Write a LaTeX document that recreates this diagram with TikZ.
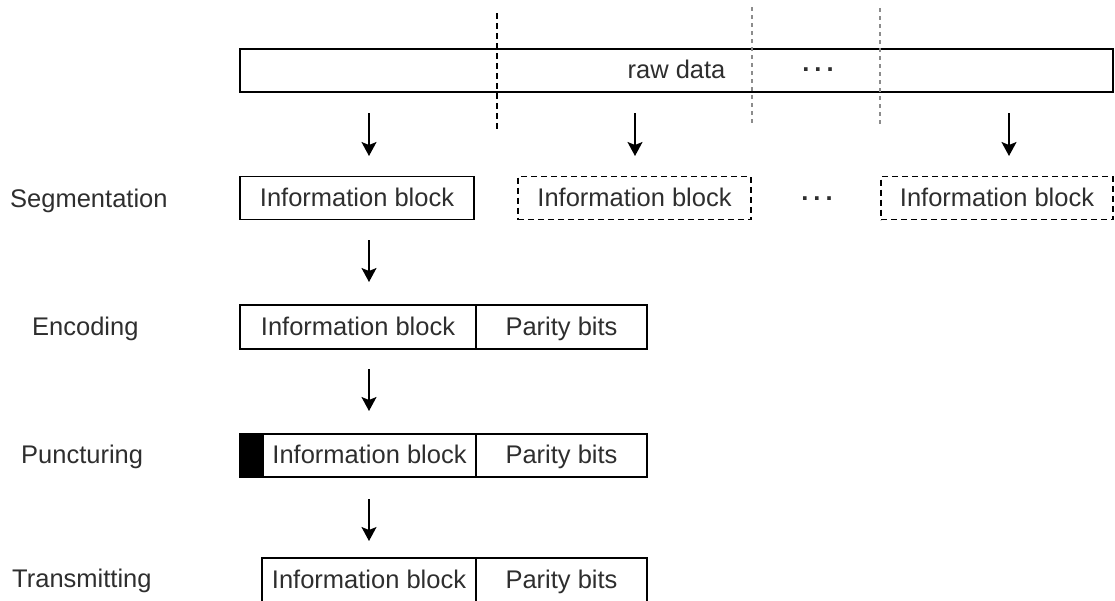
\documentclass[tikz,border=0pt]{standalone}
\usepackage{fontspec}
\setmainfont{Liberation Sans}
\usetikzlibrary{arrows.meta}
\definecolor{ink}{HTML}{2E2E2E}
\definecolor{cutgrey}{HTML}{8C8C8C}
\begin{document}
\begin{tikzpicture}[x=1pt,y=-1pt,
  txt/.style={font=\fontsize{25.5}{30}\selectfont, text=ink},
  blk/.style={draw=black, line width=1.6pt, txt, inner sep=0pt, minimum height=43pt,
              text height=18.5pt, text depth=2.5pt},
  dblk/.style={blk, dash pattern=on 6pt off 4pt},
  lbl/.style={txt, inner sep=0pt, anchor=base west},
  flow/.style={line width=1.6pt, -{Stealth[length=14pt,width=15pt,inset=3pt]}},
  cut/.style={line width=1.6pt, dash pattern=on 6pt off 4pt},
  gcut/.style={line width=2pt, draw=cutgrey, dash pattern=on 4pt off 4pt}]
\useasboundingbox (0,0) rectangle (1115,600);

% raw data stream
\node[blk, minimum width=873pt] (raw) at (676.5,70.5) {raw data};
\node[txt] (rawdots) at (818,70) {\bfseries.\kern5pt.\kern5pt.};

% segment boundaries
\coordinate (c1t) at (497,13);  \coordinate (c1b) at (497,129);
\coordinate (c2t) at (752,7);   \coordinate (c2b) at (752,124);
\coordinate (c3t) at (880,8);   \coordinate (c3b) at (880,124);
\draw[cut]  (c1t) -- (c1b);
\draw[gcut] (c2t) -- (c2b);
\draw[gcut] (c3t) -- (c3b);

% step labels
\node[lbl] (lseg) at (10,207) {Segmentation};
\node[lbl] (lenc) at (32,335) {Encoding};
\node[lbl] (lpun) at (21,463) {Puncturing};
\node[lbl] (ltx)  at (12,587) {Transmitting};

% segmentation
\node[blk,  minimum width=234pt] (seg1) at (357,198) {Information block};
\node[dblk, minimum width=233pt] (seg2) at (634.5,198) {Information block};
\node[txt] (segdots) at (817,199) {\bfseries.\kern5pt.\kern5pt.};
\node[dblk, minimum width=232pt] (seg3) at (997,198) {Information block};

% encoding
\node[blk, minimum width=236pt, minimum height=44pt] (encinfo) at (358,327) {Information block};
\node[blk, minimum width=171pt, minimum height=44pt] (encpar) at (561.5,327) {Parity bits};

% puncturing
\node[blk, fill=black, minimum width=23pt] (punmark) at (251.5,455.5) {};
\node[blk, minimum width=213pt] (puninfo) at (369.5,455.5) {Information block};
\node[blk, minimum width=171pt] (punpar) at (561.5,455.5) {Parity bits};

% transmitting
\node[blk, minimum width=214pt, minimum height=44pt] (txinfo) at (369,580) {Information block};
\node[blk, minimum width=171pt, minimum height=44pt] (txpar) at (561.5,580) {Parity bits};

% flow arrows
\coordinate (a1s) at (369,113);  \coordinate (a1e) at (369,156);
\coordinate (a2s) at (635,113);  \coordinate (a2e) at (635,156);
\coordinate (a3s) at (1009,113); \coordinate (a3e) at (1009,156);
\coordinate (a4s) at (369,240);  \coordinate (a4e) at (369,282);
\coordinate (a5s) at (369,369);  \coordinate (a5e) at (369,411);
\coordinate (a6s) at (369,499);  \coordinate (a6e) at (369,541);
\foreach \a in {1,...,6} \draw[flow] (a\a s) -- (a\a e);
\end{tikzpicture}
\end{document}
